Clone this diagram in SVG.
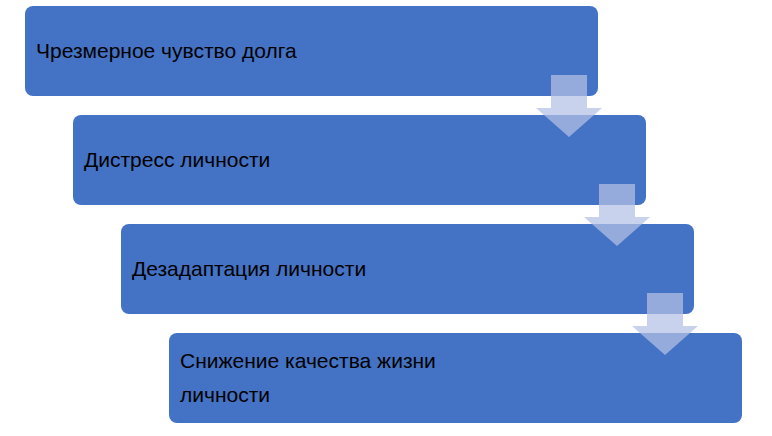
<svg xmlns="http://www.w3.org/2000/svg" width="772" height="436" viewBox="0 0 772 436">
<style>
.box{fill:#4472C4}
.t{font-family:"Liberation Sans","Noto Sans",sans-serif;font-size:21px;fill:#000}
.ar{fill:#B4C0E4;fill-opacity:0.72}
</style>
<rect width="772" height="436" fill="#fff"/>
<g id="n1"><rect class="box" x="25" y="6" width="573" height="90" rx="8"/><text class="t" x="36" y="58">Чрезмерное чувство долга</text></g>
<g id="n2"><rect class="box" x="73" y="115" width="573" height="90" rx="8"/><text class="t" x="84" y="167">Дистресс личности</text></g>
<g id="n3"><rect class="box" x="121" y="224" width="573" height="90" rx="8"/><text class="t" x="132" y="276">Дезадаптация личности</text></g>
<g id="n4"><rect class="box" x="169" y="333" width="573" height="90" rx="8"/><text class="t" x="180" y="368">Снижение качества жизни</text><text class="t" x="180" y="402">личности</text></g>
<g id="connectors">
<path class="ar" d="M551 75H587V108H602L569 137L536 108H551Z"/>
<path class="ar" d="M599 184H635V217H650L617 246L584 217H599Z"/>
<path class="ar" d="M647 293H683V326H698L665 355L632 326H647Z"/>
</g>
</svg>
